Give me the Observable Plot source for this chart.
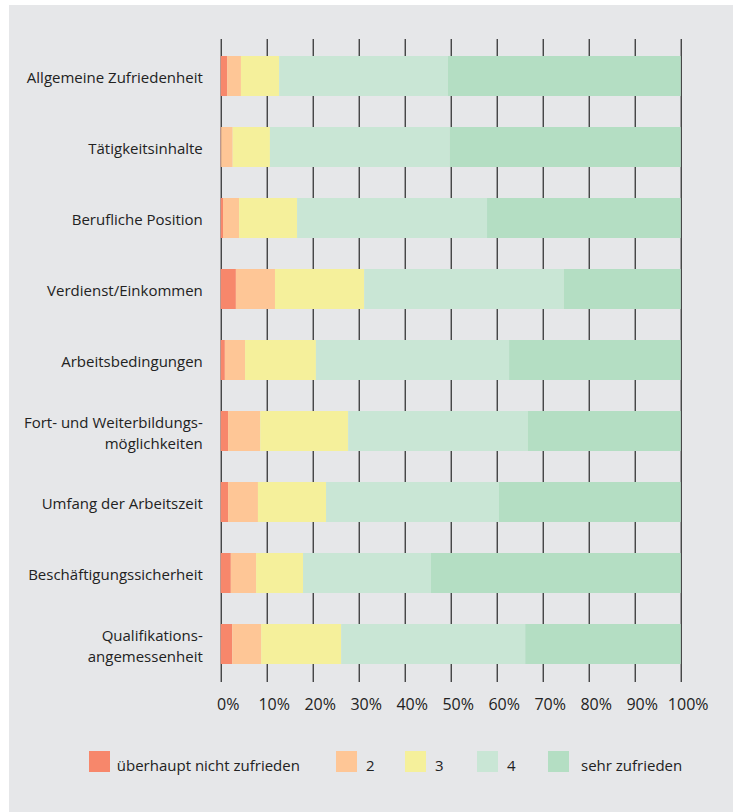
<!DOCTYPE html>
<html>
<head>
<meta charset="utf-8">
<script src="https://cdn.jsdelivr.net/npm/d3@7"></script>
<script src="https://cdn.jsdelivr.net/npm/@observablehq/plot@0.6"></script>
<style>
  html, body { margin: 0; padding: 0; background: #ffffff; }
  #wrap { position: absolute; left: 9px; top: 5px; width: 724px; height: 807px; background: #e6e7e9; font-family: "Open Sans", sans-serif; color: #222; }
  #chart { position: absolute; left: 0; top: 0; }
  .lg { position: absolute; top: 0; display: flex; align-items: center; font-size: 15px; white-space: nowrap; }
  .sw { width: 21px; height: 21px; display: inline-block; }
</style>
</head>
<body>
<div id="wrap">
  <div id="chart"></div>
  <div id="legend"></div>
</div>
<script>
const categories = [
  "Allgemeine Zufriedenheit",
  "Tätigkeitsinhalte",
  "Berufliche Position",
  "Verdienst/Einkommen",
  "Arbeitsbedingungen",
  "Fort- und Weiterbildungs-\nmöglichkeiten",
  "Umfang der Arbeitszeit",
  "Beschäftigungssicherheit",
  "Qualifikations-\nangemessenheit"
];
const levels = ["überhaupt nicht zufrieden", "2", "3", "4", "sehr zufrieden"];
const colors = ["#f7876b", "#fec696", "#f5f09b", "#c9e6d5", "#b4dec3"];
const level1 = [1.4, 0.1, 0.5, 3.3, 0.9, 1.6, 1.6, 2.2, 2.5];
const level2 = [3.0, 2.5, 3.5, 8.5, 4.4, 7.0, 6.5, 5.5, 6.3];
const level3 = [8.3, 8.1, 12.6, 19.4, 15.4, 19.1, 14.8, 10.2, 17.4];
const level4 = [36.7, 39.1, 41.3, 43.4, 42.0, 39.1, 37.6, 27.8, 40.0];
const level5 = [50.6, 50.2, 42.1, 25.4, 37.3, 33.2, 39.5, 54.3, 33.8];
const xTicks = [0, 10, 20, 30, 40, 50, 60, 70, 80, 90, 100];

const series = [level1, level2, level3, level4, level5];
const data = [];
categories.forEach((c, i) => {
  levels.forEach((l, j) => data.push({category: c, level: l, value: series[j][i]}));
});

const chart = Plot.plot({
  width: 724,
  height: 720,
  marginLeft: 211.7,
  marginRight: 52.3,
  marginTop: 34,
  marginBottom: 43,
  style: {fontFamily: "Open Sans, sans-serif", fontSize: "15px", color: "#222", background: "transparent"},
  x: {domain: [0, 100], axis: null, label: null},
  y: {domain: categories, paddingInner: 0.43, paddingOuter: 0.217, align: 0.5, axis: null, label: null},
  color: {domain: levels, range: colors},
  marks: [
    Plot.ruleX(xTicks, {stroke: "#000", strokeWidth: 1}),
    Plot.barX(data, Plot.stackX({x: "value", y: "category", fill: "level", order: null})),
    Plot.axisX({ticks: xTicks, tickSize: 0, tickPadding: 16, dx: 7, label: null, tickFormat: d => d + "%", fontSize: 16, fill: "#222"}),
    Plot.axisY({tickSize: 0, tickPadding: 18.4, label: null, fontSize: 15, lineHeight: 1.45, fill: "#222"})
  ]
});
document.getElementById("chart").appendChild(chart);

const legendX = [79.8, 327, 396, 468, 539];
const legend = document.getElementById("legend");
levels.forEach((l, i) => {
  const d = document.createElement("div");
  d.className = "lg";
  d.style.left = legendX[i] + "px";
  d.style.top = "746px";
  d.innerHTML = `<span class="sw" style="background:${colors[i]}"></span><span style="margin-left:${i === 0 ? 7 : (i === 4 ? 12 : 9)}px;position:relative;top:3px">${l}</span>`;
  legend.appendChild(d);
});
</script>
</body>
</html>
